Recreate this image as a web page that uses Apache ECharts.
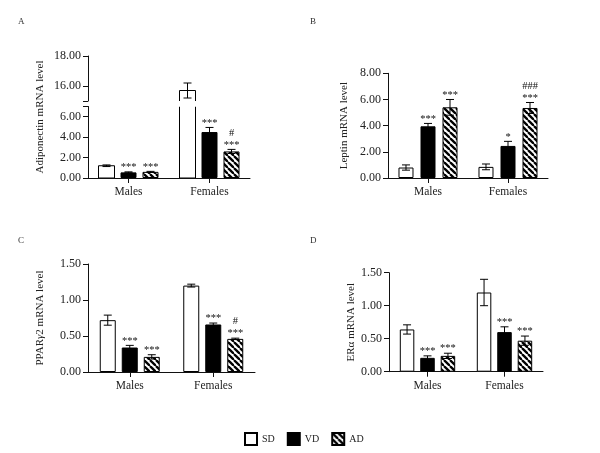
<!DOCTYPE html>
<html>
<head>
<meta charset="utf-8">
<script src="https://cdn.jsdelivr.net/npm/echarts@6/dist/echarts.min.js"></script>
<style>html,body{margin:0;padding:0;background:#fff}#c{width:600px;height:453px}</style>
</head>
<body>
<div id="c"></div>
<script>
// ---------- data ----------
const categories = ['Males', 'Females'];
const groups = ['SD', 'VD', 'AD'];

// A: Adiponectin
const adipoSD = [1.2, 15.7],  adipoSDErr = [0.08, 0.5];
const adipoVD = [0.55, 4.5],  adipoVDErr = [0.05, 0.45];
const adipoAD = [0.6, 2.6],   adipoADErr = [0.05, 0.2];
const adipoAnn = { SD: [[], []], VD: [['***'], ['***']], AD: [['***'], ['***', '#']] };
const adipoLowTicks = [0, 2, 4, 6];
const adipoHighTicks = [16, 18];

// B: Leptin
const leptinSD = [0.8, 0.85], leptinSDErr = [0.2, 0.22];
const leptinVD = [3.95, 2.45], leptinVDErr = [0.22, 0.35];
const leptinAD = [5.4, 5.35], leptinADErr = [0.6, 0.42];
const leptinAnn = { SD: [[], []], VD: [['***'], ['*']], AD: [['***'], ['***', '###']] };

// C: PPARγ2
const pparSD = [0.72, 1.2],  pparSDErr = [0.07, 0.02];
const pparVD = [0.34, 0.66], pparVDErr = [0.03, 0.02];
const pparAD = [0.21, 0.46], pparADErr = [0.03, 0.01];
const pparAnn = { SD: [[], []], VD: [['***'], ['***']], AD: [['***'], ['***', '#']] };

// D: ERα
const eraSD = [0.64, 1.2],  eraSDErr = [0.07, 0.2];
const eraVD = [0.21, 0.6],  eraVDErr = [0.03, 0.08];
const eraAD = [0.24, 0.47], eraADErr = [0.04, 0.07];
const eraAnn = { SD: [[], []], VD: [['***'], ['***']], AD: [['***'], ['***']] };

// ---------- styles ----------
const FONT = 'Liberation Serif';
function hatch() {
  const s = 6, cv = document.createElement('canvas');
  cv.width = s; cv.height = s;
  const ctx = cv.getContext('2d');
  ctx.fillStyle = '#fff'; ctx.fillRect(0, 0, s, s);
  ctx.strokeStyle = '#000'; ctx.lineWidth = 2.3;
  for (const o of [-s, 0, s]) { ctx.beginPath(); ctx.moveTo(o, 0); ctx.lineTo(o + s, s); ctx.stroke(); }
  return { image: cv, repeat: 'repeat' };
}
const fills = { SD: '#ffffff', VD: '#000000', AD: hatch() };

const panels = [
  { key: 'B', grid: { left: 388, top: 73.3, width: 160, height: 104.7 }, bw: 15, gap: 0.467,
    y: { min: 0, max: 8, interval: 2, name: 'Leptin mRNA level', nameGap: 38 },
    vals: { SD: leptinSD, VD: leptinVD, AD: leptinAD }, errs: { SD: leptinSDErr, VD: leptinVDErr, AD: leptinADErr }, ann: leptinAnn },
  { key: 'Alow', grid: { left: 88, top: 106.5, width: 162, height: 71.5 }, bw: 16, gap: 0.375, broken: true,
    y: { min: 0, max: 7, axisLabel: { customValues: adipoLowTicks }, axisTick: { customValues: adipoLowTicks.concat([7]) } },
    vals: { SD: adipoSD, VD: adipoVD, AD: adipoAD }, errs: { SD: adipoSDErr, VD: adipoVDErr, AD: adipoADErr }, ann: adipoAnn },
  { key: 'Ahigh', grid: { left: 88, top: 56, width: 162, height: 45 }, bw: 16, gap: 0.375, hideX: true, broken: true,
    y: { min: 15, max: 18, axisLabel: { customValues: adipoHighTicks }, axisTick: { customValues: [15].concat(adipoHighTicks) } },
    vals: { SD: adipoSD, VD: adipoVD, AD: adipoAD }, errs: { SD: adipoSDErr, VD: adipoVDErr, AD: adipoADErr }, ann: adipoAnn },
  { key: 'C', grid: { left: 88, top: 264, width: 167, height: 108 }, bw: 16, gap: 0.375,
    y: { min: 0, max: 1.5, interval: 0.5, name: 'PPAR{i|γ}2 mRNA level', nameGap: 42 },
    vals: { SD: pparSD, VD: pparVD, AD: pparAD }, errs: { SD: pparSDErr, VD: pparVDErr, AD: pparADErr }, ann: pparAnn },
  { key: 'D', grid: { left: 389, top: 272.7, width: 154, height: 99 }, bw: 14.5, gap: 0.41,
    y: { min: 0, max: 1.5, interval: 0.5, name: 'ERα mRNA level', nameGap: 32 },
    vals: { SD: eraSD, VD: eraVD, AD: eraAD }, errs: { SD: eraSDErr, VD: eraVDErr, AD: eraADErr }, ann: eraAnn }
];

const axisLine = { show: true, lineStyle: { color: '#111', width: 1 } };
const grids = [], xAxes = [], yAxes = [], series = [];
const txt = { fontFamily: FONT, fontSize: 11, color: '#222' };
const tickTxt = { fontFamily: FONT, fontSize: 12, color: '#222' };

panels.forEach((p, gi) => {
  grids.push(p.grid);
  xAxes.push({
    type: 'category', gridIndex: gi, data: categories, show: !p.hideX,
    axisLine: axisLine, axisTick: { show: true, alignWithLabel: true, length: 5, lineStyle: { color: '#111' } },
    axisLabel: Object.assign({ margin: 8 }, tickTxt, { fontSize: 11.5 })
  });
  yAxes.push(Object.assign({
    type: 'value', gridIndex: gi, splitLine: { show: false },
    nameLocation: 'middle', nameRotate: 90,
    nameTextStyle: Object.assign({ rich: { i: Object.assign({ fontStyle: 'italic' }, txt) } }, txt)
  }, p.y, {
    axisLine: axisLine,
    axisTick: Object.assign({ show: true, length: 5, lineStyle: { color: '#111' } }, p.y.axisTick || {}),
    axisLabel: Object.assign({ margin: 7, formatter: v => v.toFixed(2) }, tickTxt, p.y.axisLabel || {})
  }));
  const spacing = p.bw * (1 + p.gap);
  groups.forEach((g, k) => {
    const openSD = p.broken && g === 'SD';
    series.push({
      type: 'bar', name: openSD ? 'SD_A' : g, xAxisIndex: gi, yAxisIndex: gi, data: p.vals[g],
      barWidth: p.bw, barGap: (p.gap * 100) + '%', clip: true,
      itemStyle: openSD ? { color: '#fff', borderWidth: 0 } : { color: fills[g], borderColor: '#000', borderWidth: 1 }
    });
    const errs = p.errs[g], ann = p.ann[g];
    series.push({
      type: 'custom', xAxisIndex: gi, yAxisIndex: gi, clip: !!p.broken, z: 5,
      data: p.vals[g].map((v, i) => [i, v]),
      renderItem: function (params, api) {
        const i = params.dataIndex, m = api.value(1), e = errs[i];
        const x = api.coord([i, m])[0] + (k - 1) * spacing;
        const yT = api.coord([i, m + e])[1], yB = api.coord([i, m - e])[1];
        const st = { stroke: '#000', lineWidth: 1 };
        const cap = 4;
        const ch = [];
        if (openSD) {
          // outline of a bar that may cross the axis break: no edge drawn where it is cut
          const cs = params.coordSys, top = cs.y, bot = cs.y + cs.height;
          const y0 = api.coord([i, 0])[1], y1 = api.coord([i, m])[1];
          const a = Math.max(y1, top), b = Math.min(y0, bot), h = p.bw / 2;
          if (b > a) {
            ch.push({ type: 'line', shape: { x1: x - h, y1: a, x2: x - h, y2: b }, style: st });
            ch.push({ type: 'line', shape: { x1: x + h, y1: a, x2: x + h, y2: b }, style: st });
            if (y1 >= top) ch.push({ type: 'line', shape: { x1: x - h, y1: a, x2: x + h, y2: a }, style: st });
            if (y0 <= bot) ch.push({ type: 'line', shape: { x1: x - h, y1: b, x2: x + h, y2: b }, style: st });
          }
        }
        ch.push(
          { type: 'line', shape: { x1: x, y1: yT, x2: x, y2: yB }, style: st },
          { type: 'line', shape: { x1: x - cap, y1: yT, x2: x + cap, y2: yT }, style: st },
          { type: 'line', shape: { x1: x - cap, y1: yB, x2: x + cap, y2: yB }, style: st }
        );
        (ann[i] || []).forEach((t, j) => ch.push({
          type: 'text', style: { text: t, x: x, y: yT + 1 - j * 12, align: 'center', verticalAlign: 'bottom', font: '10.5px ' + FONT, fill: '#111' }
        }));
        return { type: 'group', children: ch };
      }
    });
  });
});

// helper axis for panel A's title spanning both broken segments
const hi = grids.length;
grids.push({ left: 88, top: 56, width: 162, height: 122 });
xAxes.push({ type: 'category', gridIndex: hi, data: categories, show: false });
yAxes.push({ type: 'value', gridIndex: hi, min: 0, max: 1, axisLine: { show: false }, axisTick: { show: false }, axisLabel: { show: false }, splitLine: { show: false },
  name: 'Adiponectin mRNA level', nameLocation: 'middle', nameRotate: 90, nameGap: 42, nameTextStyle: txt });

const letterStyle = { fontFamily: FONT, fontSize: 9, fontWeight: 'normal', color: '#333' };
const chart = echarts.init(document.getElementById('c'), null, { renderer: 'canvas' });
chart.setOption({
  animation: false,
  backgroundColor: '#fff',
  title: [
    { text: 'A', left: 13, top: 12, textStyle: letterStyle },
    { text: 'B', left: 305, top: 12, textStyle: letterStyle },
    { text: 'C', left: 13, top: 231, textStyle: letterStyle },
    { text: 'D', left: 305, top: 231, textStyle: letterStyle }
  ],
  legend: {
    data: groups, left: 239, top: 427, icon: 'rect', itemWidth: 12, itemHeight: 12, itemGap: 12,
    textStyle: { fontFamily: FONT, fontSize: 10, color: '#222' }, selectedMode: false
  },
  grid: grids, xAxis: xAxes, yAxis: yAxes, series: series
});
</script>
</body>
</html>
